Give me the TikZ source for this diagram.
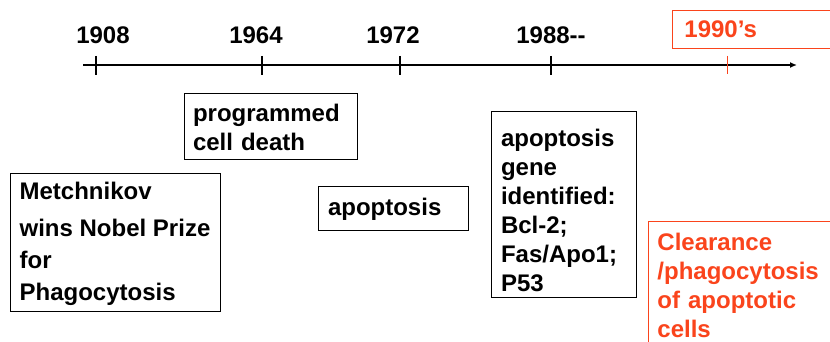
\documentclass[tikz,border=0pt]{standalone}
\usepackage{fontspec}
\setmainfont{Liberation Sans}
\usetikzlibrary{arrows.meta}
\definecolor{hired}{RGB}{250,68,28}
\begin{document}
\begin{tikzpicture}[x=1pt,y=-1pt,
  every node/.style={font=\fontsize{24}{29}\selectfont\bfseries},
  year/.style={anchor=center},
  infobox/.style={draw=black, line width=1pt, align=left, anchor=center},
  redbox/.style={draw=hired, line width=0.9pt, text=hired, align=left, anchor=north west},
  axis/.style={line width=2pt, -{Latex[length=7pt,width=6pt]}},
  tick/.style={line width=2pt},
  redtick/.style={draw=hired, line width=0.8pt}]
\useasboundingbox (0,0) rectangle (830,342);
\fill[white] (0,0) rectangle (830,342);
% axis
\coordinate (a0) at (83,65);
\coordinate (a1) at (797,65);
\draw[axis] (a0) -- (a1);
\foreach \x in {96,262,400,551} \draw[tick] (\x,56) -- (\x,75);
\draw[redtick] (727,56) -- (727,74);
% years
\node[year] (y1908) at (103,35) {1908};
\node[year] (y1964) at (256,35) {1964};
\node[year] (y1972) at (393,35) {1972};
\node[year] (y1988) at (551,35) {1988{-}{-}};
\node[redbox, minimum height=38pt, text width=150pt, inner xsep=12pt, inner ysep=0pt] (y1990) at (672,10) {1990’s};
% boxes
\node[infobox, minimum width=173pt, minimum height=66pt, text width=155pt, inner xsep=9pt] (pcd) at (270.5,127) {programmed\\cell death};
\node[infobox, minimum width=210pt, minimum height=138pt] (met) at (115,242) {\rule{0pt}{22pt}Metchnikov\\[8pt]wins Nobel Prize\\[3pt]for\\[3pt]Phagocytosis};
\node[infobox, minimum width=150pt, minimum height=44pt, text width=130pt, inner xsep=10pt] (apo) at (393,208) {\rule{0pt}{20pt}apoptosis};
\node[infobox, minimum width=145pt, minimum height=185pt, text width=125pt, inner xsep=10pt] (gene) at (563.5,204.5) {\rule{0pt}{30pt}apoptosis\\gene\\identified:\\Bcl-2;\\Fas/Apo1;\\P53};
\node[redbox, text width=200pt, inner xsep=9pt, inner ysep=12pt] (clr) at (648,221) {Clearance\\/phagocytosis\\of apoptotic\\cells\\[20pt]};
\end{tikzpicture}
\end{document}
